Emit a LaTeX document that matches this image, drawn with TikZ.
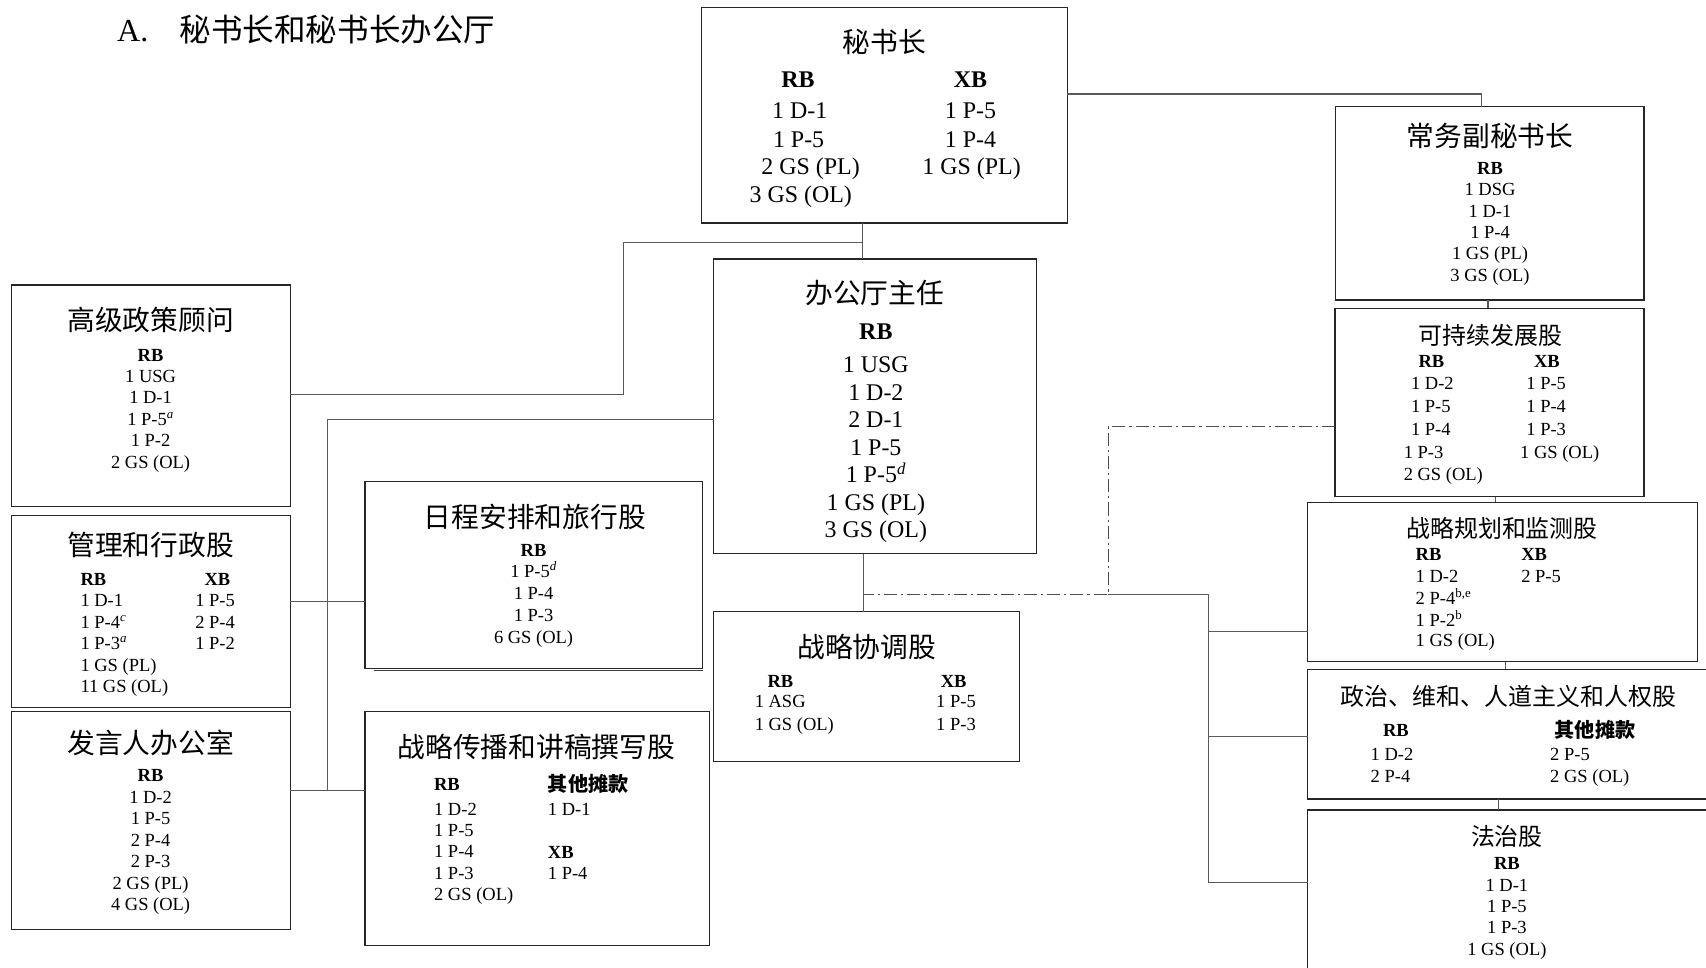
\documentclass[tikz,border=0pt]{standalone}
\usepackage{fontspec}
\setmainfont{Liberation Serif}
\newfontfamily\cjk{Noto Sans CJK SC}
\newcommand\rows[6]{\foreach \tx [count=\i] in {#6}{\node[#2] (#1-\i) at (#3,{#4+(\i-1)*#5}) {\tx};}}
\tikzset{
 box/.style={draw=black!85, line width=1.1pt, inner sep=0pt, outer sep=0pt},
 link/.style={draw=black!65, line width=1pt},
 ddot/.style={draw=black!70, line width=1pt, dash pattern=on 12pt off 3.7pt on 2pt off 3.7pt},
 T/.style={font=\cjk\fontsize{25.5}{26}\selectfont, inner sep=0pt, anchor=center},
 Ts/.style={font=\cjk\fontsize{22}{24}\selectfont, inner sep=0pt, anchor=center},
 Cb/.style={font=\cjk\bfseries\fontsize{18.5}{20}\selectfont, inner sep=0pt, anchor=center},
 CbL/.style={Cb, anchor=west},
 L/.style={font=\fontsize{22}{24}\selectfont, inner sep=0pt, anchor=base, yshift=-7.3pt},
 Lb/.style={L, font=\fontsize{22}{24}\selectfont\bfseries},
 S/.style={font=\fontsize{17}{19}\selectfont, inner sep=0pt, anchor=base, yshift=-5.6pt},
 Sb/.style={S, font=\fontsize{17}{19}\selectfont\bfseries},
 SL/.style={S, anchor=base west},
 SbL/.style={Sb, anchor=base west},
}
\begin{document}
\begin{tikzpicture}[x=1pt,y=-1pt]
\useasboundingbox (0,0) rectangle (1568,889);
\clip (0,0) rectangle (1568,889);
% heading
\node[anchor=base west, font=\fontsize{29.5}{30}\selectfont, inner sep=0pt] (ha) at (107.5,38.3) {A.};
\node[anchor=west, font=\cjk\fontsize{29}{30}\selectfont, inner sep=0pt] (ht) at (165,26.8) {秘书长和秘书长办公厅};
% boxes
\node[box, minimum width=336pt, minimum height=198pt] (sg) at (813,106) {};
\node[box, minimum width=283.5pt, minimum height=177.7pt] (dsg) at (1369.25,186.85) {};
\node[box, minimum width=284pt, minimum height=173.1pt] (sd) at (1369,369.95) {};
\node[box, minimum width=358.4pt, minimum height=146.5pt] (spm) at (1381.2,534.95) {};
\node[box, minimum width=388pt, minimum height=119.2pt] (phh) at (1396,674.8) {};
\node[box, minimum width=388pt, minimum height=175.5pt] (rol) at (1396,832.25) {};
\node[box, minimum width=297pt, minimum height=271pt] (coh) at (804.5,373.5) {};
\node[box, minimum width=281pt, minimum height=137.8pt] (sc) at (796.5,631.1) {};
\node[box, minimum width=256.1pt, minimum height=203.7pt] (spa) at (138.65,363.85) {};
\node[box, minimum width=256.1pt, minimum height=176pt] (ma) at (138.65,562) {};
\node[box, minimum width=256.1pt, minimum height=200pt] (sp) at (138.65,754.1) {};
\node[box, minimum width=310.2pt, minimum height=171.6pt] (st) at (490.6,528.5) {};
\node[box, minimum width=316.5pt, minimum height=215.1pt] (scs) at (493.75,761.65) {};
\coordinate (sh1) at (344,616);
\coordinate (sh2) at (645.7,616);
\draw[draw=black!75, line width=0.8pt] (sh1) -- (sh2);
% connectors
\coordinate (c1) at (1361.5,86.4);
\draw[link] (sg.east |- c1) -- (c1) -- (c1 |- dsg.north);
\coordinate (c2) at (793,223);
\draw[link] (c2 |- sg.south) -- (c2 |- coh.north);
\coordinate (c3) at (572.7,223);
\coordinate (c4) at (572.7,362.4);
\draw[link] (c2) -- (c3) -- (c4) -- (c4 -| spa.east);
\coordinate (c5) at (301,385.2);
\coordinate (c6) at (301,726.7);
\draw[link] (coh.west |- c5) -- (c5) -- (c6);
\draw[link] (sp.east |- c6) -- (c6) -- (c6 -| scs.west);
\coordinate (c7) at (301,553);
\draw[link] (ma.east |- c7) -- (c7 -| st.west);
\coordinate (c8) at (793.7,546.2);
\draw[link] (c8 |- coh.south) -- (c8 |- sc.north);
\coordinate (c9) at (1018.4,392.2);
\coordinate (c10) at (1018.4,546.2);
\draw[ddot] (sd.west |- c9) -- (c9) -- (c10) -- (c8);
\coordinate (c11) at (1110.5,546.2);
\coordinate (c12) at (1110.5,811);
\coordinate (c13) at (1110.5,580.6);
\coordinate (c14) at (1110.5,676.5);
\draw[link] (c10) -- (c11) -- (c12) -- (c12 -| rol.west);
\draw[link] (c13) -- (c13 -| spm.west);
\draw[link] (c14) -- (c14 -| phh.west);
\coordinate (v1) at (1367.6,0);
\coordinate (v2) at (1374.6,0);
\coordinate (v3) at (1383.5,0);
\coordinate (v4) at (1377.6,0);
\draw[link] (v1 |- dsg.south) -- (v1 |- sd.north);
\draw[link] (v2 |- sd.south) -- (v2 |- spm.north);
\draw[link] (v3 |- spm.south) -- (v3 |- phh.north);
\draw[link] (v4 |- phh.south) -- (v4 |- rol.north);
% SG
\node[T] (sg-t) at (813,38.3) {秘书长};
\node[Lb] (sg-rb) at (733.5,73) {RB};
\node[Lb] (sg-xb) at (892,73) {XB};
\node[L] (sg-r1) at (735,102) {1 D-1};
\node[L] (sg-r2) at (734,128) {1 P-5};
\node[L] (sg-r3) at (745,153.5) {2 GS (PL)};
\node[L] (sg-r4) at (736,179) {3 GS (OL)};
\node[L] (sg-x1) at (892,102) {1 P-5};
\node[L] (sg-x2) at (892,128) {1 P-4};
\node[L] (sg-x3) at (893,153.5) {1 GS (PL)};
% DSG
\node[T] (dsg-t) at (1369.5,124.7) {常务副秘书长};
\node[Sb] (dsg-rb) at (1369.5,154.7) {RB};
\rows{dsg-r}{S}{1369.5}{174.3}{19.6}{1 DSG,1 D-1,1 P-4,1 GS (PL),3 GS (OL)}
% Sustainable development
\node[Ts] (sd-t) at (1370,308) {可持续发展股};
\node[Sb] (sd-rb) at (1315.6,332) {RB};
\node[Sb] (sd-xb) at (1421.8,332) {XB};
\node[SL] (sd-r1) at (1296.7,352.3) {1 D-2};
\node[SL] (sd-r2) at (1296.7,373.8) {1 P-5};
\node[SL] (sd-r3) at (1296.7,394.3) {1 P-4};
\node[SL] (sd-r4) at (1290,415.4) {1 P-3};
\node[SL] (sd-r5) at (1290,436) {2 GS (OL)};
\node[SL] (sd-x1) at (1402.7,352.3) {1 P-5};
\node[SL] (sd-x2) at (1402.7,373.8) {1 P-4};
\node[SL] (sd-x3) at (1402.7,394.3) {1 P-3};
\node[SL] (sd-x4) at (1397,415.4) {1 GS (OL)};
% Strategic planning and monitoring
\node[Ts] (spm-t) at (1380.5,485.6) {战略规划和监测股};
\node[SbL] (spm-rb) at (1301,510) {RB};
\node[SbL] (spm-xb) at (1398,510) {XB};
\node[SL] (spm-r1) at (1301,530) {1 D-2};
\node[SL] (spm-r2) at (1301,550) {2 P-4\textsuperscript{b,e}};
\node[SL] (spm-r3) at (1301,569.9) {1 P-2\textsuperscript{b}};
\node[SL] (spm-r4) at (1301,588.9) {1 GS (OL)};
\node[SL] (spm-x1) at (1398,530) {2 P-5};
% Political, peacekeeping, humanitarian and human rights
\node[Ts] (phh-t) at (1386.4,640.3) {政治、维和、人道主义和人权股};
\node[Sb] (phh-rb) at (1283,671) {RB};
\node[Cb] (phh-ob) at (1466,671) {其他摊款};
\node[SL] (phh-r1) at (1259.6,693) {1 D-2};
\node[SL] (phh-r2) at (1259.6,714) {2 P-4};
\node[SL] (phh-x1) at (1424.6,693) {2 P-5};
\node[SL] (phh-x2) at (1424.6,714) {2 GS (OL)};
% Rule of law
\node[Ts] (rol-t) at (1385,769) {法治股};
\node[Sb] (rol-rb) at (1385,793.5) {RB};
\rows{rol-r}{S}{1385}{813.4}{19.7}{1 D-1,1 P-5,1 P-3,1 GS (OL)}
% Chef de Cabinet
\node[T] (coh-t) at (804,269.6) {办公厅主任};
\node[Lb] (coh-rb) at (805,304.5) {RB};
\rows{coh-r}{L}{805}{335.2}{25.3}{1 USG,1 D-2,2 D-1,1 P-5,{1 P-5\textsuperscript{\itshape d}},1 GS (PL),3 GS (OL)}
% Strategic coordination
\node[T] (sc-t) at (796.7,594.4) {战略协调股};
\node[SbL] (sc-rb) at (705.3,626.5) {RB};
\node[SbL] (sc-xb) at (864.5,626.5) {XB};
\node[SL] (sc-r1) at (693.5,644.9) {1 ASG};
\node[SL] (sc-r2) at (693.5,665.4) {1 GS (OL)};
\node[SL] (sc-x1) at (860.3,644.9) {1 P-5};
\node[SL] (sc-x2) at (860.3,665.4) {1 P-3};
% Senior policy adviser
\node[T] (spa-t) at (138.4,294.1) {高级政策顾问};
\node[Sb] (spa-rb) at (138.4,326.3) {RB};
\rows{spa-r}{S}{138.4}{345.6}{19.8}{1 USG,1 D-1,{1 P-5\textsuperscript{\itshape a}},1 P-2,2 GS (OL)}
% Management and administration
\node[T] (ma-t) at (138.4,500.9) {管理和行政股};
\node[SbL] (ma-rb) at (73.8,532.2) {RB};
\node[SbL] (ma-xb) at (187.8,532.2) {XB};
\rows{ma-r}{SL}{73.8}{552.1}{19.7}{1 D-1,{1 P-4\textsuperscript{\itshape c}},{1 P-3\textsuperscript{\itshape a}},1 GS (PL),11 GS (OL)}
\rows{ma-x}{SL}{179.3}{552.1}{19.7}{1 P-5,2 P-4,1 P-2}
% Spokesperson
\node[T] (sp-t) at (138.4,682.4) {发言人办公室};
\node[Sb] (sp-rb) at (138.4,713.1) {RB};
\rows{sp-r}{S}{138.4}{732.5}{19.8}{1 D-2,1 P-5,2 P-4,2 P-3,2 GS (PL),4 GS (OL)}
% Scheduling and travel
\node[T] (st-t) at (491.6,474.9) {日程安排和旅行股};
\node[Sb] (st-rb) at (490.4,506.1) {RB};
\rows{st-r}{S}{490.4}{525.4}{20}{{1 P-5\textsuperscript{\itshape d}},1 P-4,1 P-3,6 GS (OL)}
% Strategic communications and speechwriting
\node[T] (scs-t) at (492.9,686.3) {战略传播和讲稿撰写股};
\node[SbL] (scs-rb) at (398.8,720.7) {RB};
\node[CbL] (scs-ob) at (503.4,720.7) {其他摊款};
\rows{scs-r}{SL}{398.8}{743.7}{19.6}{1 D-2,1 P-5,1 P-4,1 P-3,2 GS (OL)}
\node[SL] (scs-x1) at (503.4,743.7) {1 D-1};
\node[SbL] (scs-xb) at (503.4,783.2) {XB};
\node[SL] (scs-x2) at (503.4,802.4) {1 P-4};
\end{tikzpicture}
\end{document}
